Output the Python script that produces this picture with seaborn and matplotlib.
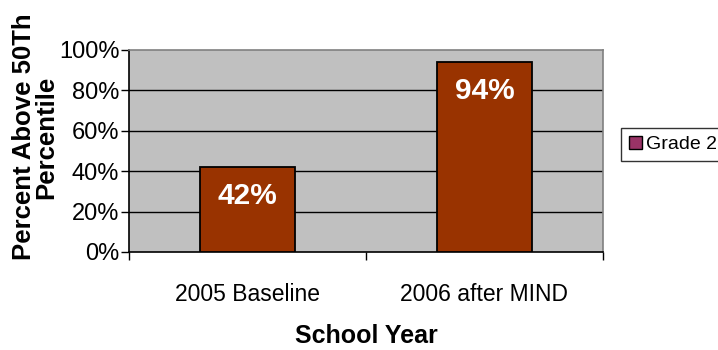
import matplotlib
matplotlib.use("Agg")
import matplotlib.pyplot as plt
from matplotlib.patches import Patch
from matplotlib.ticker import FixedLocator, PercentFormatter
import seaborn as sns
import pandas as pd

# Chart data
categories = ["2005 Baseline", "2006 after MIND"]
grade2_pct = [42, 94]
series_name = "Grade 2"
y_ticks = [0, 20, 40, 60, 80, 100]

sns.set_theme(style="white")
plt.rcParams["font.family"] = ["Liberation Sans", "DejaVu Sans"]
plt.rcParams.update({"text.color": "black", "axes.labelcolor": "black",
                     "xtick.color": "black", "ytick.color": "black"})

W, H = 718, 350
fig = plt.figure(figsize=(W / 100, H / 100), dpi=100)
ax = fig.add_axes([129 / W, 1 - 252 / H, (603 - 129) / W, (252 - 50) / H])

df = pd.DataFrame({"year": categories, "pct": grade2_pct})
sns.barplot(data=df, x="year", y="pct", color="#993300", width=0.4,
            edgecolor="black", linewidth=1.3, saturation=1, ax=ax, zorder=3)

ax.set_facecolor("#C0C0C0")
ax.set_xlim(-0.5, len(categories) - 0.5)
ax.set_ylim(0, 100)
ax.set_yticks(y_ticks)
ax.yaxis.set_major_formatter(PercentFormatter(decimals=0))
for y in y_ticks[1:-1]:
    ax.axhline(y, color="black", linewidth=1.0, zorder=1)

# category tick marks at the boundaries between groups
ax.xaxis.set_minor_locator(FixedLocator([i - 0.5 for i in range(len(categories) + 1)]))
ax.tick_params(axis="x", which="major", length=0, labelsize=16.5, pad=22)
ax.tick_params(axis="x", which="minor", length=6, width=1, color="black", direction="out", bottom=True)
ax.tick_params(axis="y", which="major", length=6, width=1, color="black", direction="out",
               labelsize=17, pad=1, left=True)

for side in ("left", "bottom"):
    ax.spines[side].set_color("black")
    ax.spines[side].set_linewidth(1.2)
for side in ("top", "right"):
    ax.spines[side].set_color("#808080")
    ax.spines[side].set_linewidth(1.2)

ax.set_xlabel("School Year", fontsize=18, fontweight="bold", labelpad=13)
ax.set_ylabel("")

# value labels inside the bars
for i, v in enumerate(grade2_pct):
    ax.annotate(f"{v}%", xy=(i, v), xytext=(0, -21), textcoords="offset points",
                ha="center", va="center", color="white", fontsize=21.5,
                fontweight="bold", zorder=5)

fig.text(35 / W, 1 - 137 / H, "Percent Above 50Th\nPercentile", rotation=90,
         ha="center", va="center", multialignment="center", fontsize=18.5,
         fontweight="bold", linespacing=0.92)

handle = Patch(facecolor="#993366", edgecolor="black", linewidth=1)
leg = fig.legend([handle], [series_name], loc="upper left",
                 bbox_to_anchor=(621 / W, 1 - 128 / H), borderaxespad=0,
                 fontsize=14, frameon=True, fancybox=False, handlelength=0.7,
                 handleheight=0.7, handletextpad=0.2, borderpad=0.4)
leg.get_frame().set_edgecolor("black")
leg.get_frame().set_linewidth(1)

fig.savefig("out.png", dpi=100)
